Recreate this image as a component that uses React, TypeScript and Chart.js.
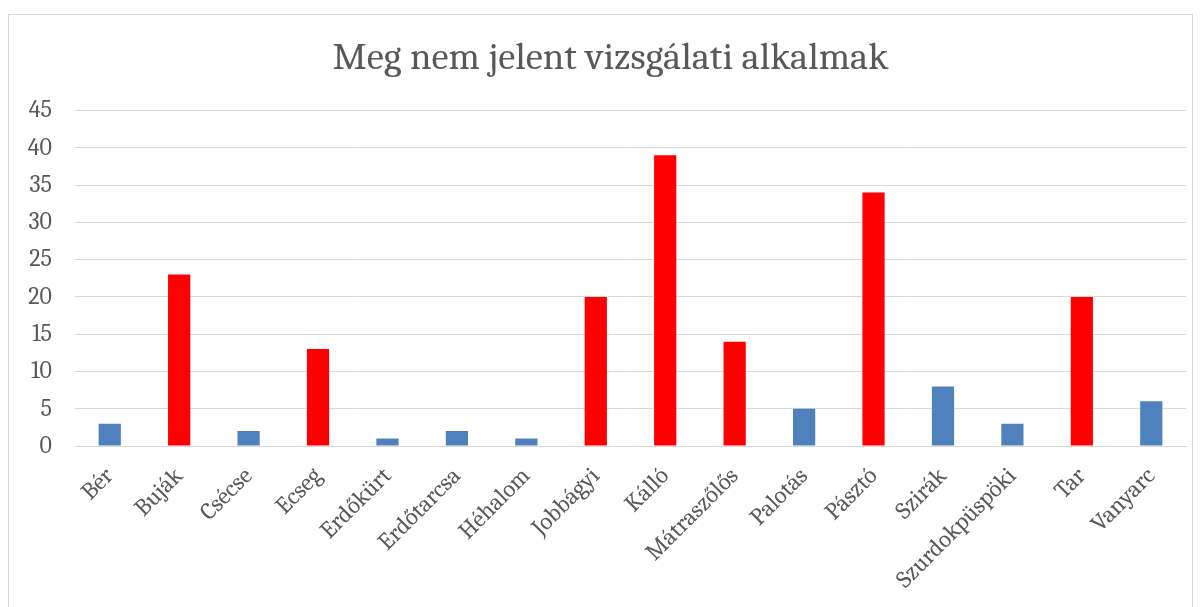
import React, { useEffect, useRef } from "react";
import { Chart, registerables } from "chart.js";

Chart.register(...registerables);

const title = "Meg nem jelent vizsgálati alkalmak";
const categories = [
  "Bér", "Buják", "Csécse", "Ecseg", "Erdőkürt", "Erdőtarcsa", "Héhalom", "Jobbágyi",
  "Kálló", "Mátraszőlős", "Palotás", "Pásztó", "Szirák", "Szurdokpüspöki", "Tar", "Vanyarc",
];
const values = [3, 23, 2, 13, 1, 2, 1, 20, 39, 14, 5, 34, 8, 3, 20, 6];
const threshold = 10;
const yMax = 45;
const yStep = 5;

const BLUE = "#4F81BD";
const RED = "#FF0000";
const TEXT = "#595959";
const GRID = "#D9D9D9";
const FONT = "Cambria, 'Liberation Serif', serif";

const titleShift = {
  id: "titleShift",
  afterLayout(chart: any) {
    const t = chart.titleBlock;
    if (t) {
      t.left += 26;
    }
  },
};

export default function App() {
  const ref = useRef<HTMLCanvasElement | null>(null);
  useEffect(() => {
    if (!ref.current) return;
    const chart = new Chart(ref.current, {
      type: "bar",
      data: {
        labels: categories,
        datasets: [
          {
            data: values,
            backgroundColor: values.map((v) => (v >= threshold ? RED : BLUE)),
            barPercentage: 0.32,
            categoryPercentage: 1,
          },
        ],
      },
      plugins: [titleShift],
      options: {
        animation: false,
        responsive: false,
        maintainAspectRatio: false,
        layout: { padding: { left: 0, right: 6, top: 0, bottom: 0 } },
        plugins: {
          legend: { display: false },
          tooltip: { enabled: false },
          title: {
            display: true,
            text: title,
            color: TEXT,
            font: { family: FONT, size: 38.6, weight: "normal" },
            lineHeight: 1.2,
            padding: { top: 20, bottom: 29.3 },
          },
        },
        scales: {
          x: {
            grid: { display: false },
            border: { display: true, color: GRID, width: 1 },
            ticks: {
              color: TEXT,
              font: { family: FONT, size: 24 },
              minRotation: 45,
              maxRotation: 45,
              padding: 8,
              autoSkip: false,
            },
            afterFit: (s: any) => {
              s.height = 189;
            },
          },
          y: {
            min: 0,
            max: yMax,
            grid: { color: GRID, lineWidth: 1, drawTicks: false },
            border: { display: false },
            ticks: {
              stepSize: yStep,
              color: TEXT,
              font: { family: FONT, size: 24 },
              padding: 23,
            },
            afterFit: (s: any) => {
              s.width = 66;
            },
          },
        },
      },
    });
    return () => chart.destroy();
  }, []);
  return (
    <div
      style={{
        marginTop: 6,
        width: 1183,
        height: 620,
        border: "1px solid #D9D9D9",
        boxSizing: "content-box",
        background: "#fff",
      }}
    >
      <canvas ref={ref} width={1183} height={620} style={{ display: "block" }} />
    </div>
  );
}
